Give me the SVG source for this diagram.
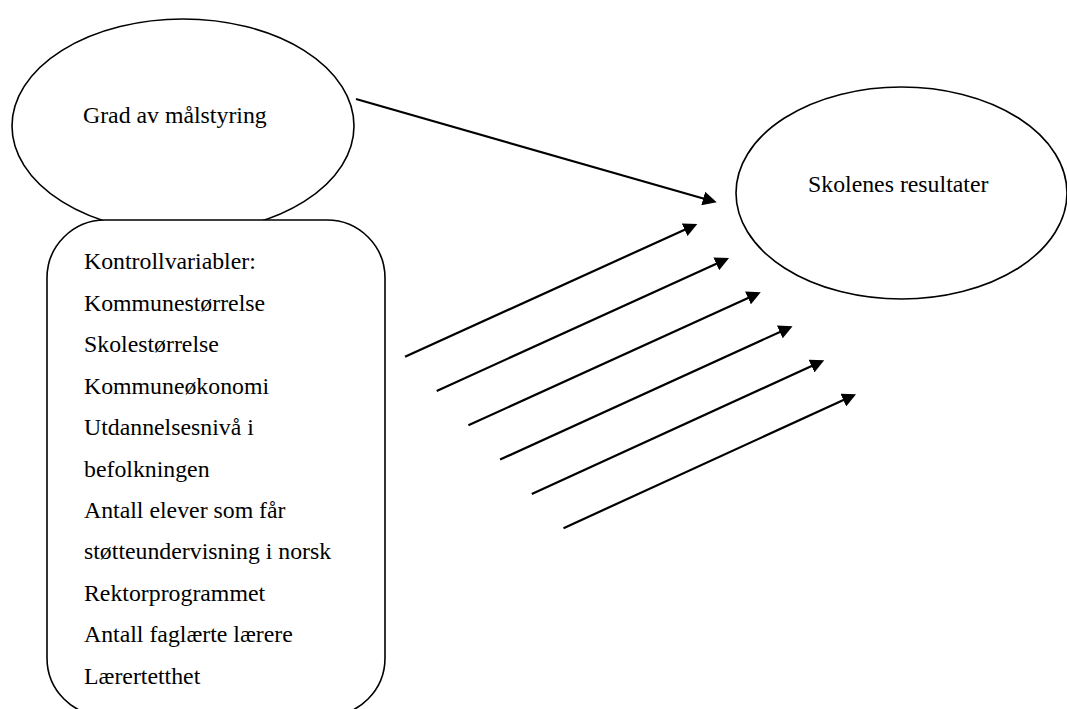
<svg xmlns="http://www.w3.org/2000/svg" width="1067" height="709" viewBox="0 0 1067 709">
  <style>
    .shape { fill: #ffffff; stroke: #000000; stroke-width: 1.6; }
    .lbl { font-family: "Liberation Serif", "Times New Roman", serif; font-size: 23.8px; fill: #000000; }
    .conn { stroke: #000000; stroke-width: 2.2; fill: none; marker-end: url(#ah); }
  </style>
  <defs>
    <marker id="ah" markerUnits="userSpaceOnUse" markerWidth="14" markerHeight="14" viewBox="0 0 14 14" refX="11" refY="7" orient="auto">
      <path d="M0,0 L14,7 L0,14 z" fill="#000000"/>
    </marker>
  </defs>
  <rect width="1067" height="709" fill="#ffffff"/>

  <g id="node-grad">
    <ellipse class="shape" cx="183" cy="126" rx="171" ry="107"/>
    <text class="lbl" x="83" y="123">Grad av målstyring</text>
  </g>

  <g id="node-kontroll">
    <rect class="shape" x="47" y="220" width="338" height="496" rx="58" ry="58"/>
    <text class="lbl" x="84" y="269">Kontrollvariabler:</text>
    <text class="lbl" x="84" y="310.5">Kommunestørrelse</text>
    <text class="lbl" x="84" y="352">Skolestørrelse</text>
    <text class="lbl" x="84" y="393.5">Kommuneøkonomi</text>
    <text class="lbl" x="84" y="435">Utdannelsesnivå i</text>
    <text class="lbl" x="84" y="476.5">befolkningen</text>
    <text class="lbl" x="84" y="518">Antall elever som får</text>
    <text class="lbl" x="84" y="559">støtteundervisning i norsk</text>
    <text class="lbl" x="84" y="600.5">Rektorprogrammet</text>
    <text class="lbl" x="84" y="642">Antall faglærte lærere</text>
    <text class="lbl" x="84" y="683.5">Lærertetthet</text>
  </g>

  <g id="node-skolenes">
    <ellipse class="shape" cx="901.5" cy="193" rx="165.5" ry="106"/>
    <text class="lbl" x="808" y="192">Skolenes resultater</text>
  </g>

  <g id="connectors">
    <line class="conn" x1="356" y1="99" x2="713.8" y2="201.5"/>
    <line class="conn" x1="405" y1="356.7" x2="694.6" y2="225.2"/>
    <line class="conn" x1="436.7" y1="391" x2="726.3" y2="259.3"/>
    <line class="conn" x1="468.4" y1="425.3" x2="758" y2="293.4"/>
    <line class="conn" x1="500.1" y1="459.6" x2="789.8" y2="327.4"/>
    <line class="conn" x1="531.8" y1="493.9" x2="821.5" y2="361.5"/>
    <line class="conn" x1="563.5" y1="528.2" x2="853.3" y2="395.5"/>
  </g>
</svg>
